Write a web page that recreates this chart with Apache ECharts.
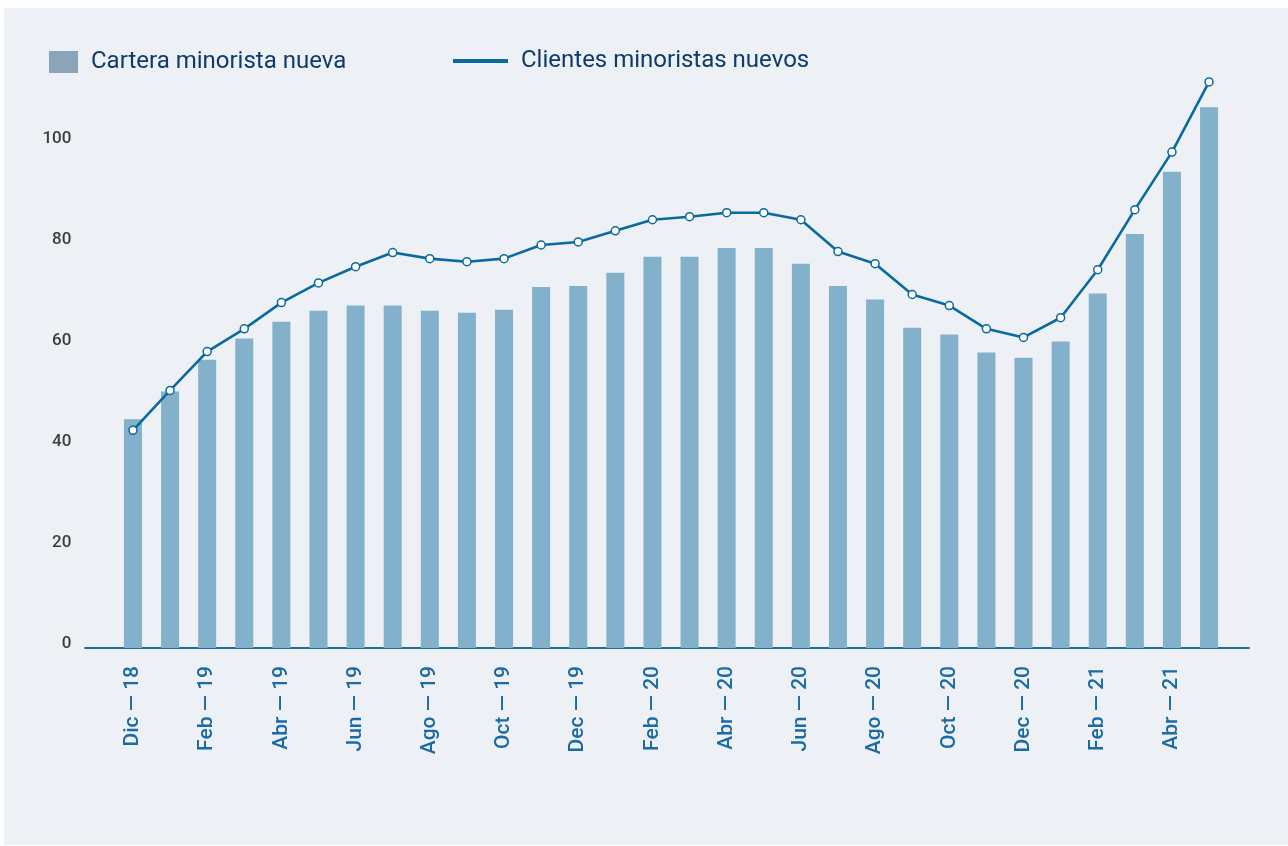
<!DOCTYPE html>
<html>
<head>
<meta charset="utf-8">
<script src="https://cdn.jsdelivr.net/npm/echarts@6/dist/echarts.min.js"></script>
<style>
  html, body { margin: 0; padding: 0; background: #ffffff; }
  #panel { position: absolute; left: 4px; top: 8px; width: 1284px; height: 837px; background: #edf0f5; }
  #chart { position: absolute; left: 0; top: 0; width: 1288px; height: 846px; }
</style>
</head>
<body>
<div id="panel"></div>
<div id="chart"></div>
<script>
const categories = ['Dic — 18','Ene — 19','Feb — 19','Mar — 19','Abr — 19','May — 19','Jun — 19','Jul — 19','Ago — 19','Sep — 19','Oct — 19','Nov — 19','Dec — 19','Ene — 20','Feb — 20','Mar — 20','Abr — 20','May — 20','Jun — 20','Jul — 20','Ago — 20','Sep — 20','Oct — 20','Nov — 20','Dec — 20','Ene — 21','Feb — 21','Mar — 21','Abr — 21','May — 21'];
const carteraNueva = [45.3,50.8,57.1,61.3,64.6,66.8,67.8,67.8,66.8,66.4,67.0,71.5,71.7,74.3,77.5,77.5,79.2,79.2,76.1,71.7,69.0,63.4,62.1,58.5,57.5,60.7,70.2,82.0,94.3,107.1];
const clientesNuevos = [43.1,51.0,58.7,63.2,68.4,72.3,75.5,78.3,77.1,76.5,77.1,79.8,80.4,82.6,84.8,85.4,86.2,86.2,84.8,78.5,76.1,70.0,67.8,63.2,61.5,65.4,74.9,86.8,98.2,112.1];
const yTicks = [0, 20, 40, 60, 80, 100];
const seriesNames = ['Cartera minorista nueva', 'Clientes minoristas nuevos'];

const chart = echarts.init(document.getElementById('chart'), null, { renderer: 'canvas' });
const font = 'Roboto, "Noto Sans", sans-serif';
const legendText = { fontFamily: font, fontSize: 24, color: '#0e3a6c', lineHeight: 24, padding: [0, 0, 0, 8] };
const option = {
  backgroundColor: 'transparent',
  animation: false,
  legend: [
    {
      left: 49, top: 50, padding: 0,
      itemWidth: 29, itemHeight: 22, itemGap: 0,
      textStyle: legendText,
      data: [{ name: seriesNames[0], icon: 'rect', itemStyle: { color: '#8aa5ba' } }],
      selectedMode: false
    },
    {
      left: 453, top: 49, padding: 0,
      itemWidth: 55, itemHeight: 4, itemGap: 0,
      textStyle: legendText,
      data: [{ name: seriesNames[1], icon: 'rect', itemStyle: { color: '#0a6aa0', borderWidth: 0 } }],
      selectedMode: false
    }
  ],
  grid: [
    { left: 114.4, right: 60.4, top: 42, bottom: 198, containLabel: false },
    { left: 85, right: 39, top: 42, bottom: 198, containLabel: false }
  ],
  xAxis: [
    {
      type: 'category', gridIndex: 0, data: categories, boundaryGap: true,
      axisLine: { show: false }, axisTick: { show: false },
      axisLabel: {
        interval: 1, rotate: 90, margin: 18,
        fontFamily: font, fontSize: 21, fontWeight: 500, color: '#1a6aa3'
      },
      splitLine: { show: false }
    },
    {
      type: 'value', gridIndex: 1, min: 0, max: 1, position: 'bottom',
      axisLine: { show: true, onZero: false, lineStyle: { color: '#1a6ea6', width: 2 } },
      axisTick: { show: false }, axisLabel: { show: false }, splitLine: { show: false }
    }
  ],
  yAxis: [
    {
      type: 'value', gridIndex: 0, min: 0, max: 120, interval: 20,
      axisLine: { show: false }, axisTick: { show: false }, splitLine: { show: false },
      axisLabel: {
        margin: 43, fontFamily: font, fontSize: 17, fontWeight: 500, color: '#3d3d3d',
        verticalAlign: 'bottom', lineHeight: 9,
        formatter: function (v) { return yTicks.indexOf(v) >= 0 ? String(v) : ''; }
      }
    },
    {
      type: 'value', gridIndex: 1, min: 0, max: 1, show: false
    }
  ],
  series: [
    {
      name: seriesNames[0], type: 'bar', xAxisIndex: 0, yAxisIndex: 0,
      data: carteraNueva, barWidth: 18,
      itemStyle: { color: '#83b1cc' }, z: 2
    },
    {
      name: seriesNames[1], type: 'line', xAxisIndex: 0, yAxisIndex: 0,
      data: clientesNuevos,
      symbol: 'circle', symbolSize: 8, showSymbol: true,
      lineStyle: { color: '#0a6aa0', width: 2.6 },
      itemStyle: { color: '#ffffff', borderColor: '#0a6aa0', borderWidth: 1.5 },
      z: 3
    }
  ]
};
chart.setOption(option);
</script>
</body>
</html>
